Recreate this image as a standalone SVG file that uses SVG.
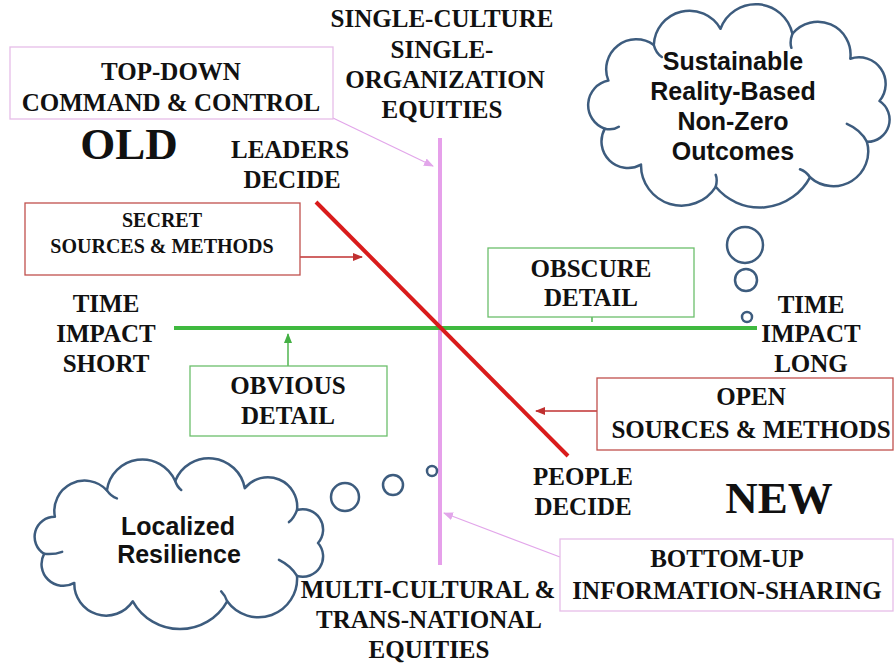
<svg xmlns="http://www.w3.org/2000/svg" width="894" height="664" viewBox="0 0 894 664">
<defs>
<style>
.lbl{font-family:"Liberation Serif","Times New Roman",serif;font-weight:bold;font-size:25px;fill:#111;text-anchor:middle}
.sm{font-size:20px}
.big{font-size:45px}
.sans{font-family:"Liberation Sans",Arial,sans-serif;font-weight:bold;font-size:25px;fill:#111;text-anchor:middle}
.cloud{fill:#fff;stroke:#3d5c7e;stroke-width:2.5;stroke-linejoin:round}
.inner{fill:none;stroke:#3d5c7e;stroke-width:2.5;stroke-linecap:round}
.pbox{fill:#fff;stroke:#e6bde8;stroke-width:1.3}
.rbox{fill:#fff;stroke:#c0504d;stroke-width:1.3}
.gbox{fill:#fff;stroke:#6cbf6c;stroke-width:1.3}
.parr{stroke:#e2a6ea;stroke-width:1.2;fill:none}
.rarr{stroke:#c03030;stroke-width:1.4;fill:none}
.garr{stroke:#44b044;stroke-width:1.4;fill:none}
</style>
<marker id="mp" markerWidth="10" markerHeight="8" refX="9" refY="4" orient="auto" markerUnits="userSpaceOnUse"><path d="M0,0 L10,4 L0,8 Z" fill="#e2a6ea"/></marker>
<marker id="mr" markerWidth="10" markerHeight="8" refX="9" refY="4" orient="auto" markerUnits="userSpaceOnUse"><path d="M0,0 L10,4 L0,8 Z" fill="#c03030"/></marker>
<marker id="mg" markerWidth="10" markerHeight="8" refX="9" refY="4" orient="auto" markerUnits="userSpaceOnUse"><path d="M0,0 L10,4 L0,8 Z" fill="#44b044"/></marker>
</defs>
<rect width="894" height="664" fill="#fff"/>

<g id="axes">
<line x1="440" y1="138" x2="440" y2="565" stroke="#e6a0ea" stroke-width="4"/>
<line x1="174" y1="328" x2="757" y2="328" stroke="#3fb93f" stroke-width="4"/>
<line x1="316" y1="202" x2="568" y2="456" stroke="#d91b1b" stroke-width="4"/>
</g>

<g id="connectors">
<line class="parr" x1="333" y1="118" x2="433" y2="166" marker-end="url(#mp)"/>
<line class="parr" x1="560" y1="557" x2="444" y2="513" marker-end="url(#mp)"/>
<line class="rarr" x1="300" y1="257" x2="362" y2="257" marker-end="url(#mr)"/>
<line class="rarr" x1="597" y1="411" x2="536" y2="411" marker-end="url(#mr)"/>
<line class="garr" x1="288" y1="366" x2="288" y2="334" marker-end="url(#mg)"/>
<line class="garr" x1="592" y1="317" x2="592" y2="322"/>
</g>

<g id="top-label">
<text class="lbl" x="442" y="27">SINGLE-CULTURE</text>
<text class="lbl" x="442" y="58">SINGLE-</text>
<text class="lbl" x="445" y="88">ORGANIZATION</text>
<text class="lbl" x="442" y="118">EQUITIES</text>
</g>

<g id="top-down">
<rect class="pbox" x="10" y="47" width="323" height="72"/>
<text class="lbl" x="171" y="80">TOP-DOWN</text>
<text class="lbl" x="171" y="111">COMMAND &amp; CONTROL</text>
</g>

<g id="old"><text class="lbl big" x="129" y="159">OLD</text></g>
<g id="new"><text class="lbl big" x="779" y="513">NEW</text></g>

<g id="leaders">
<text class="lbl" x="290" y="158">LEADERS</text>
<text class="lbl" x="292" y="188">DECIDE</text>
</g>

<g id="secret">
<rect class="rbox" x="25" y="203" width="275" height="72"/>
<text class="lbl sm" x="162" y="227">SECRET</text>
<text class="lbl sm" x="162" y="253">SOURCES &amp; METHODS</text>
</g>

<g id="time-short">
<text class="lbl" x="106" y="312">TIME</text>
<text class="lbl" x="106" y="342">IMPACT</text>
<text class="lbl" x="106" y="372">SHORT</text>
</g>

<g id="obvious">
<rect class="gbox" x="190" y="366" width="197" height="70"/>
<text class="lbl" x="288" y="394">OBVIOUS</text>
<text class="lbl" x="288" y="424">DETAIL</text>
</g>

<g id="obscure">
<rect class="gbox" x="488" y="248" width="206" height="69"/>
<text class="lbl" x="591" y="277">OBSCURE</text>
<text class="lbl" x="591" y="306">DETAIL</text>
</g>

<g id="time-long">
<text class="lbl" x="811" y="313">TIME</text>
<text class="lbl" x="811" y="342">IMPACT</text>
<text class="lbl" x="811" y="372">LONG</text>
</g>

<g id="open">
<rect class="rbox" x="597" y="378" width="296" height="72"/>
<text class="lbl" x="751" y="405">OPEN</text>
<text class="lbl" x="751" y="438">SOURCES &amp; METHODS</text>
</g>

<g id="people">
<text class="lbl" x="583" y="485">PEOPLE</text>
<text class="lbl" x="583" y="515">DECIDE</text>
</g>

<g id="bottom-up">
<rect class="pbox" x="560" y="539" width="333" height="72"/>
<text class="lbl" x="727" y="567">BOTTOM-UP</text>
<text class="lbl" x="727" y="599">INFORMATION-SHARING</text>
</g>

<g id="bottom-label">
<text class="lbl" x="428" y="598">MULTI-CULTURAL &amp;</text>
<text class="lbl" x="429" y="628">TRANS-NATIONAL</text>
<text class="lbl" x="429" y="658">EQUITIES</text>
</g>

<g id="cloud-outcomes">
<path class="cloud" d="M604.8,128.7 A25,25 0 0 1 608.4,80.6 A30,30 0 0 1 653.8,45 A35.7,35.7 0 0 1 720.5,28.8 A37.5,37.5 0 0 1 792.4,33.8 A32.8,32.8 0 0 1 850.3,58.7 A26.7,26.7 0 0 1 879.5,101 A22.2,22.2 0 0 1 866.9,141.8 A34.9,34.9 0 0 1 810,177.3 A57,57 0 0 1 715.7,186.8 A40.5,40.5 0 0 1 641,164.6 A26.5,26.5 0 0 1 604.8,128.7 Z"/>
<path class="inner" d="M604.8,128.7 q8,2 14,-2 M653.8,45 q2,8 8,12 M792.4,33.8 q-3,8 -1,14 M866.9,141.8 q-6,-12 -20,-18 M810,177.3 q-4,-6 -10,-8 M715.7,186.8 q2,-7 0,-12"/>
<circle class="cloud" cx="745" cy="245" r="18"/>
<circle class="cloud" cx="746" cy="280" r="11"/>
<circle class="cloud" cx="747" cy="317" r="5"/>
<text class="sans" x="733" y="70">Sustainable</text>
<text class="sans" x="733" y="100">Reality-Based</text>
<text class="sans" x="733" y="130">Non-Zero</text>
<text class="sans" x="733" y="160">Outcomes</text>
</g>

<g id="cloud-resilience">
<path class="cloud" d="M44.1,553.8 A20,20 0 0 1 54.9,516.8 A30.3,30.3 0 0 1 106.9,490.4 A35.8,35.8 0 0 1 175.2,481 A36.4,36.4 0 0 1 244.8,488.3 A29.4,29.4 0 0 1 297,510.1 A20.3,20.3 0 0 1 318,543 A20.3,20.3 0 0 1 297,575.9 A38.6,38.6 0 0 1 227.2,601.3 A54,54 0 0 1 132.8,601.3 A31.9,31.9 0 0 1 74.3,582.9 A21.8,21.8 0 0 1 44.1,553.8 Z"/>
<path class="inner" d="M44.1,553.8 q10,1 18,-2 M106.9,490.4 q4,6 10,8 M175.2,481 q2,6 6,9 M297,510.1 q-3,8 -8,12 M297,575.9 q-6,-10 -18,-16 M227.2,601.3 q-2,-6 -6,-10"/>
<circle class="cloud" cx="345" cy="497" r="14"/>
<circle class="cloud" cx="393" cy="485" r="10"/>
<circle class="cloud" cx="432" cy="471" r="5"/>
<text class="sans" x="178" y="535">Localized</text>
<text class="sans" x="179" y="563">Resilience</text>
</g>
</svg>
